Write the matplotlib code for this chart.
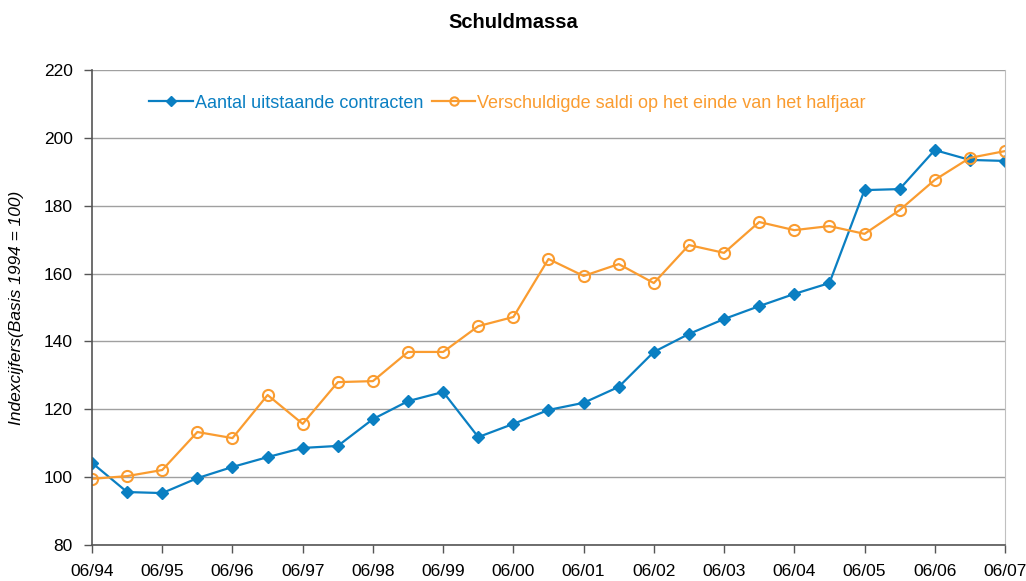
import matplotlib
matplotlib.use('Agg')
import matplotlib.pyplot as plt
import numpy as np

plt.rcParams['font.family'] = ['Liberation Sans', 'DejaVu Sans']

# Half-yearly observations, 06/94 .. 06/07
contracten = [104.2, 95.6, 95.3, 99.7, 103.0, 105.9, 108.6, 109.2, 117.1, 122.4,
              125.1, 111.8, 115.7, 119.8, 121.9, 126.6, 136.9, 142.2, 146.6, 150.4,
              154.0, 157.2, 184.6, 184.9, 196.4, 193.5, 193.2]
saldi = [99.5, 100.3, 102.1, 113.3, 111.5, 124.2, 115.7, 128.0, 128.3, 136.9,
         136.9, 144.5, 147.2, 164.3, 159.3, 162.8, 157.2, 168.4, 166.1, 175.2,
         172.8, 174.0, 171.7, 178.7, 187.6, 194.1, 196.1]
year_labels = ['06/94', '06/95', '06/96', '06/97', '06/98', '06/99', '06/00',
               '06/01', '06/02', '06/03', '06/04', '06/05', '06/06', '06/07']

blue = '#0a7fc2'
orange = '#fa9c30'

fig = plt.figure(figsize=(10.26, 5.81), dpi=100)
ax = fig.add_axes([0.0897, 0.062, 0.8898, 0.8175])

x = np.arange(len(contracten))
ax.plot(x, contracten, color=blue, lw=1.6, marker='D', ms=6.5,
        markerfacecolor=blue, markeredgecolor=blue,
        label='Aantal uitstaande contracten')
ax.plot(x, saldi, color=orange, lw=1.6, marker='o', ms=8,
        markerfacecolor='none', markeredgecolor=orange, markeredgewidth=1.5,
        label='Verschuldigde saldi op het einde van het halfjaar')

ax.set_xlim(0, len(contracten) - 1)
ax.set_ylim(80, 220)
ax.set_yticks(np.arange(80, 221, 20))
ax.set_xticks(np.arange(0, len(contracten), 2))
ax.set_xticklabels(year_labels)
ax.tick_params(axis='both', labelsize=12.5, direction='out', length=6,
               color='#555555', width=1)
ax.tick_params(axis='x', pad=8)
ax.tick_params(axis='y', pad=8)

ax.yaxis.grid(True, color='#a0a0a0', lw=1)
ax.set_axisbelow(True)
for side in ['left', 'bottom']:
    ax.spines[side].set_color('#555555')
    ax.spines[side].set_linewidth(1.2)
ax.spines['top'].set_visible(False)
ax.spines['right'].set_color('#c0c0c0')

ax.set_ylabel('Indexcijfers(Basis 1994 = 100)', fontsize=12.5, style='italic', labelpad=14)
fig.suptitle('Schuldmassa', fontsize=14.5, fontweight='bold', y=0.978)

leg = ax.legend(loc='upper left', bbox_to_anchor=(0.045, 0.982), ncol=2,
                frameon=False, fontsize=13, handlelength=2.4,
                handletextpad=0.1, columnspacing=0.5, markerscale=0.75)
for txt, col in zip(leg.get_texts(), [blue, orange]):
    txt.set_color(col)

fig.savefig('out.png', dpi=100, facecolor='white')
